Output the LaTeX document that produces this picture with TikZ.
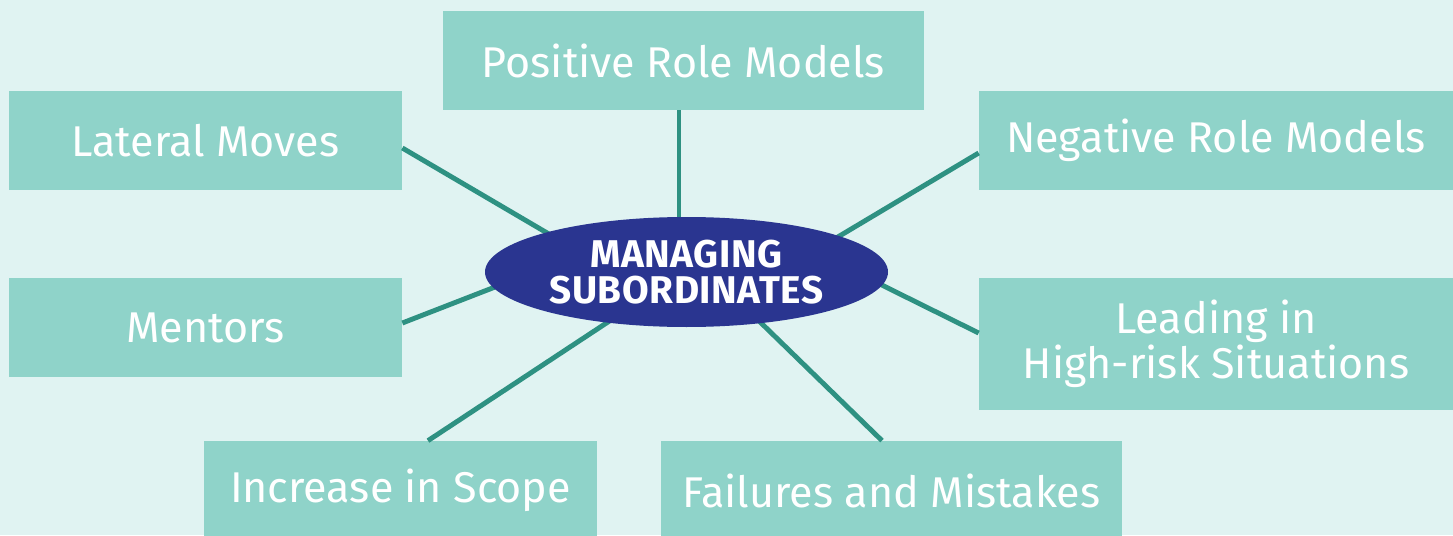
\documentclass[tikz,border=0pt]{standalone}
\usepackage{fontspec}
\setmainfont{Fira Sans}
\usetikzlibrary{shapes.geometric}
\definecolor{bgcol}{HTML}{E0F3F2}
\definecolor{boxcol}{HTML}{8FD3C9}
\definecolor{linkcol}{HTML}{2E9182}
\definecolor{hubcol}{HTML}{2A3590}
\begin{document}
\begin{tikzpicture}[
    topic/.style={rectangle, fill=boxcol, text=white, align=center, minimum height=1.98cm, inner sep=0pt, font=\fontsize{24.5}{25.6}\selectfont},
    hub/.style={ellipse, fill=hubcol, text=white, align=center, minimum width=8.06cm, minimum height=2.2cm, inner sep=0pt, font=\bfseries\fontsize{22}{20.5}\selectfont\addfontfeature{LetterSpace=1.5}},
    link/.style={line width=2.8pt, draw=linkcol}
]
\fill[bgcol] (0,0) rectangle (29.06,10.7);
\clip (0,0) rectangle (29.06,10.7);

\node[topic, minimum width=9.62cm] (posrole) at (13.67,9.49) {Positive Role Models};
\node[topic, minimum width=7.86cm] (lateral) at (4.11,7.89) {Lateral Moves};
\node[topic, minimum width=9.48cm] (negrole) at (24.32,7.89) {Negative Role Models};
\node[topic, minimum width=7.86cm] (mentors) at (4.11,4.15) {Mentors};
\node[topic, minimum width=9.48cm, minimum height=2.64cm] (leading) at (24.32,3.82) {Leading in\\High-risk Situations};
\node[topic, minimum width=7.86cm] (scope) at (8.01,0.89) {Increase in Scope};
\node[topic, minimum width=9.22cm] (failures) at (17.83,0.89) {Failures and Mistakes};

\coordinate (hubN) at (13.58,5.30);
\coordinate (hubNW) at (12.00,5.42);
\coordinate (hubNE) at (15.60,5.27);
\coordinate (hubW) at (11.60,5.62);
\coordinate (hubE) at (16.00,5.81);
\coordinate (hubSW) at (13.60,5.21);
\coordinate (hubSE) at (14.00,5.43);

\draw[link] ([xshift=-0.09cm]posrole.south) -- (hubN);
\draw[link] ([yshift=-0.15cm]lateral.east) -- (hubNW);
\draw[link] ([yshift=-0.25cm]negrole.west) -- (hubNE);
\draw[link] ([yshift=0.09cm]mentors.east) -- (hubW);
\draw[link] ([yshift=0.22cm]leading.west) -- (hubE);
\draw[link] ([xshift=0.55cm]scope.north) -- (hubSW);
\draw[link] ([xshift=-0.19cm]failures.north) -- (hubSE);

\node[hub] (center) at (13.73,5.26) {MANAGING\\SUBORDINATES};

\end{tikzpicture}
\end{document}
